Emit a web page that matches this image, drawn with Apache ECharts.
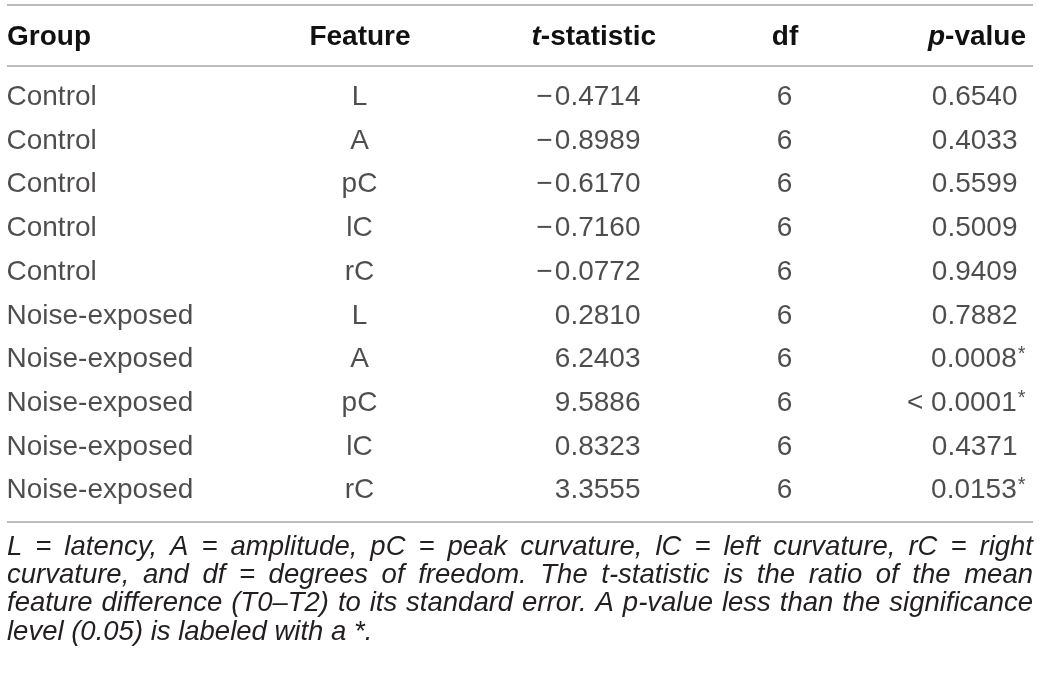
<!DOCTYPE html>
<html>
<head>
<meta charset="utf-8">
<script src="https://cdn.jsdelivr.net/npm/echarts@6/dist/echarts.min.js"></script>
<style>
  html, body { margin: 0; padding: 0; background: #fff; }
  #main { width: 1040px; height: 678px; }
</style>
</head>
<body>
<div id="main"></div>
<script>
// table data
var groups = ['Control','Control','Control','Control','Control',
  'Noise-exposed','Noise-exposed','Noise-exposed','Noise-exposed','Noise-exposed'];
var features = ['L','A','pC','lC','rC','L','A','pC','lC','rC'];
var tStats = ['\u22120.4714','\u22120.8989','\u22120.6170','\u22120.7160','\u22120.0772',
  '0.2810','6.2403','9.5886','0.8323','3.3555'];
var dfs = ['6','6','6','6','6','6','6','6','6','6'];
var pValues = ['0.6540','0.4033','0.5599','0.5009','0.9409','0.7882','0.0008','< 0.0001','0.4371','0.0153'];
var significant = [false,false,false,false,false,false,true,true,false,true];

var footnote = [
  'L = latency, A = amplitude, pC = peak curvature, lC = left curvature, rC = right',
  'curvature, and df = degrees of freedom. The t-statistic is the ratio of the mean',
  'feature difference (T0\u2013T2) to its standard error. A p-value less than the significance',
  'level (0.05) is labeled with a *.'
];

var FONT = "'Liberation Sans', Helvetica, Arial, sans-serif";
var TEXT_COLOR = '#231f20';
var LINE_COLOR = '#a6a6a6';
var FS = 28;      // table body
var NOTE_FS = 27.5;

var rowIdx = [];
for (var i = 0; i < groups.length; i++) rowIdx.push(i);

// one scatter series per column, labels carry the text
function columnSeries(x, align, texts, extra) {
  var data = [];
  for (var i = 0; i < texts.length; i++) {
    var item = { value: [x, i], txt: texts[i] };
    if (extra) extra(item, i);
    data.push(item);
  }
  return {
    type: 'scatter',
    symbolSize: 1,
    itemStyle: { color: 'rgba(0,0,0,0)' },
    silent: true,
    data: data,
    label: {
      show: true,
      position: [0, 0],
      align: align,
      verticalAlign: 'middle',
      fontFamily: FONT,
      fontSize: FS,
      color: TEXT_COLOR,
      formatter: function (p) {
        var t = p.data.txt.replace('\u2212', '\u2212\u200a');
        return p.data.star ? t + '{s|*}' : t;
      },
      rich: {
        s: { fontFamily: FONT, fontSize: 20, color: TEXT_COLOR, verticalAlign: 'top', padding: [0, 0, 10, 1] }
      }
    }
  };
}

// justified footnote lines, measured with canvas
var ctx = document.createElement('canvas').getContext('2d');
var noteFont = 'italic ' + NOTE_FS + 'px ' + FONT;
ctx.font = noteFont;
var noteLeft = 7, noteRight = 1033, noteTop = 547, noteStep = 28.4;
var graphics = [];
footnote.forEach(function (line, li) {
  var words = line.split(' ');
  var y = noteTop + li * noteStep;
  var justify = li < footnote.length - 1;
  var widths = words.map(function (w) { return ctx.measureText(w).width; });
  var total = widths.reduce(function (a, b) { return a + b; }, 0);
  var gap = justify ? (noteRight - noteLeft - total) / (words.length - 1) : ctx.measureText(' ').width;
  var x = noteLeft;
  words.forEach(function (w, wi) {
    graphics.push({
      type: 'text', x: x, y: y, silent: true,
      style: { text: w, font: noteFont, fill: TEXT_COLOR, textVerticalAlign: 'middle' }
    });
    x += widths[wi] + gap;
  });
});

// rules
[5, 66, 522].forEach(function (y) {
  graphics.push({
    type: 'line', silent: true,
    shape: { x1: 7, y1: y, x2: 1033, y2: y },
    style: { stroke: LINE_COLOR, lineWidth: 1.5 }
  });
});

// header
var hFont = 'bold ' + FS + 'px ' + FONT;
function header(x, align, text) {
  graphics.push({
    type: 'text', x: x, y: 37, silent: true,
    style: {
      text: text, font: hFont, fill: '#111',
      textAlign: align, textVerticalAlign: 'middle',
      rich: { i: { font: 'italic bold ' + FS + 'px ' + FONT, fill: '#111' },
              b: { font: hFont, fill: '#111' } }
    }
  });
}
header(7, 'left', '{b|Group}');
header(360, 'center', '{b|Feature}');
header(656, 'right', '{i|t}{b|-statistic}');
header(785, 'center', '{b|df}');
header(1026, 'right', '{i|p}{b|-value}');

var myChart = echarts.init(document.getElementById('main'));
var option = {
  animation: false,
  backgroundColor: '#fff',
  grid: { left: 0, right: 0, top: 76, bottom: 165 },
  xAxis: { type: 'value', min: 0, max: 1040, show: false },
  yAxis: { type: 'category', data: rowIdx, inverse: true, show: false },
  graphic: graphics,
  series: [
    columnSeries(7, 'left', groups),
    columnSeries(360, 'center', features),
    columnSeries(641, 'right', tStats),
    columnSeries(785, 'center', dfs),
    columnSeries(1018, 'right', pValues, function (item, i) {
      if (significant[i]) {
        item.star = true;
        item.label = { offset: [8, 0] };
      }
    })
  ]
};
myChart.setOption(option);
</script>
</body>
</html>
